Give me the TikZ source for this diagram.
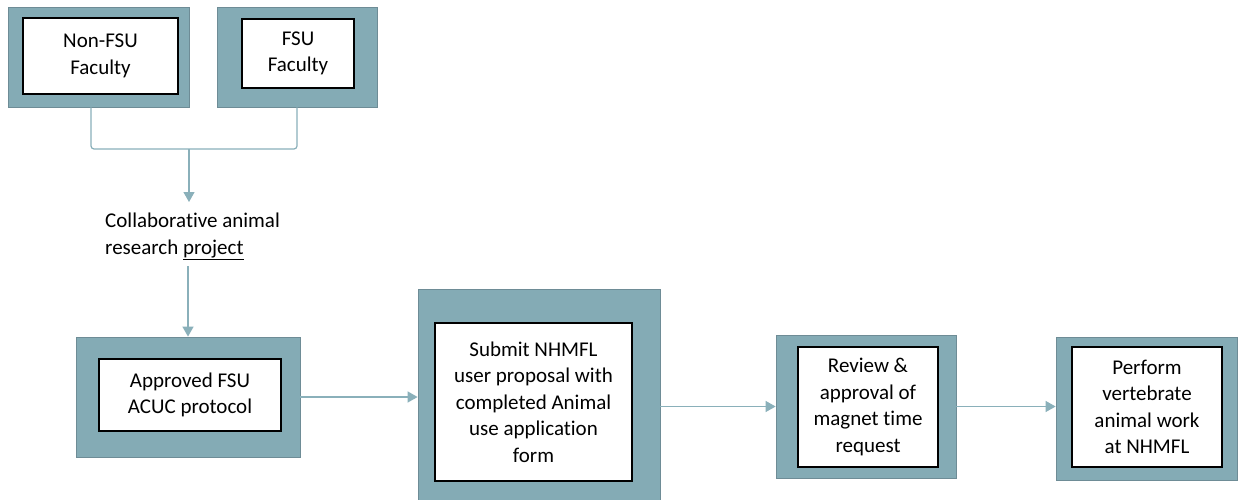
\documentclass[tikz,border=0pt]{standalone}
\usepackage{fontspec}
\setmainfont{Carlito}[Ligatures=NoCommon]
\usetikzlibrary{arrows.meta}
\definecolor{boxfill}{RGB}{132,171,181}
\definecolor{boxedge}{RGB}{110,140,150}
\definecolor{connc}{RGB}{138,176,186}
\begin{document}
\begin{tikzpicture}[x=1pt,y=-1pt,
  outerbox/.style={draw=boxedge, line width=0.8pt, fill=boxfill, inner sep=0pt},
  innerbox/.style={draw=black, line width=1.3pt, fill=white, inner sep=0pt, align=center,
                   font=\fontsize{21}{26.5}\selectfont},
  conn/.style={draw=connc, line width=1.2pt},
  arr/.style={conn, -{Triangle[length=10pt,width=11pt]}},
  plain/.style={inner sep=0pt, align=left, font=\fontsize{21}{26.5}\selectfont}
]
\useasboundingbox (0,0) rectangle (1238,500);
\fill[white] (0,0) rectangle (1238,500);
\clip (0,0) rectangle (1238,500);

% top boxes
\node[outerbox, minimum width=181pt, minimum height=100pt] (nfo) at (98.5,57) {};
\node[innerbox, minimum width=155pt, minimum height=76pt] (nfi) at (100.5,56) {Non-FSU\\Faculty};
\node[outerbox, minimum width=160pt, minimum height=100pt] (fo) at (297,57) {};
\node[innerbox, minimum width=112pt, minimum height=69pt] (fi) at (298,53.5) {FSU\\Faculty};

% collaborative text
\node[plain, anchor=north west] (collab) at (105,213) {Collaborative animal\\research \underline{project}};

% bottom row
\node[outerbox, minimum width=224pt, minimum height=120pt] (apo) at (188,397) {};
\node[innerbox, minimum width=182pt, minimum height=72pt] (api) at (190,395) {Approved FSU\\ACUC protocol};

\node[outerbox, minimum width=242pt, minimum height=230pt] (sbo) at (539,404) {};
\node[innerbox, minimum width=197pt, minimum height=158pt] (sbi) at (533.5,402)
  {Submit NHMFL\\user proposal with\\completed Animal\\use application\\form};

\node[outerbox, minimum width=180pt, minimum height=143pt] (rvo) at (866,406.5) {};
\node[innerbox, minimum width=140pt, minimum height=120pt] (rvi) at (868,407)
  {Review \&\\approval of\\magnet time\\request};

\node[outerbox, minimum width=181pt, minimum height=143pt] (pfo) at (1146.5,408.5) {};
\node[innerbox, minimum width=150pt, minimum height=120pt] (pfi) at (1147,407)
  {Perform\\vertebrate\\animal work\\at NHMFL};

% connectors
\coordinate (j) at (189,149);
\coordinate (jt) at (189,202);
\coordinate (c2) at (188,266);
\draw[conn, rounded corners=3pt] ([xshift=-7.5pt]nfo.south) |- (j) -| (fo.south);
\draw[arr] (j) -- (jt);
\draw[arr] (c2) -- (apo.north);
\draw[arr] (apo.east) -- (apo.east -| sbo.west);
\draw[arr] (rvo.west -| sbo.east) -- (rvo.west);
\draw[arr] (rvo.east) -- (rvo.east -| pfo.west);
\end{tikzpicture}
\end{document}
